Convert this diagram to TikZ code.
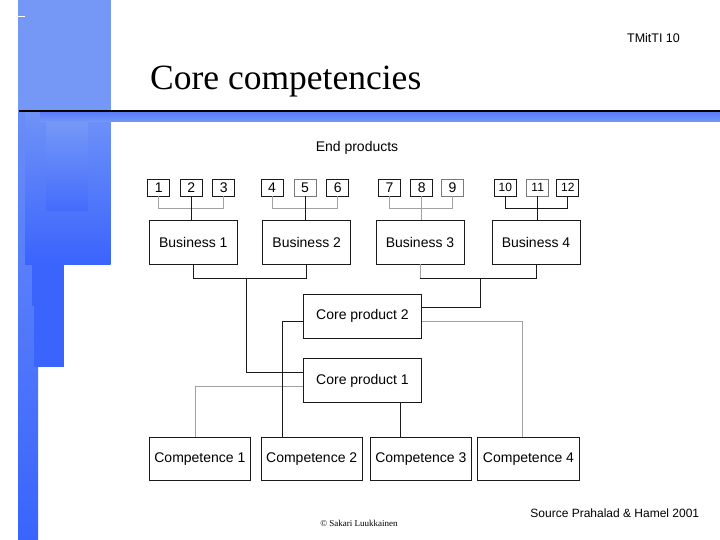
\documentclass[tikz,border=0pt]{standalone}
\usepackage{fontspec}
\setmainfont{Liberation Sans}
\newfontfamily\titlefont{Liberation Serif}
\usetikzlibrary{positioning}

\definecolor{barlight}{HTML}{7598F7}
\definecolor{bardark}{HTML}{3A64FC}
\definecolor{linedark}{HTML}{1A1A1A}
\definecolor{linegray}{HTML}{A2A2A2}

\tikzset{
  prodbox/.style={draw=linedark, line width=0.9pt, minimum width=22pt, minimum height=17pt,
    inner sep=0pt, font=\fontsize{14}{14}\selectfont},
  grayprod/.style={prodbox, draw=linegray!75!black},
  busbox/.style={draw=linedark, line width=0.9pt, minimum width=88pt, minimum height=44pt,
    inner sep=0pt, font=\fontsize{14}{16}\selectfont},
  corebox/.style={busbox, minimum width=118pt},
  compbox/.style={busbox, minimum width=101.5pt, minimum height=43.5pt},
  dark/.style={draw=linedark, line width=0.9pt},
  light/.style={draw=linegray, line width=0.9pt},
}

\begin{document}
\begin{tikzpicture}[x=1pt, y=-1pt]

  % page
  \useasboundingbox[fill=white] (0,0) rectangle (720,540);

  % Left side bars
  \shade[top color=barlight, bottom color=bardark] (18,0) rectangle (38,540);
  \fill[barlight] (18,0) rectangle (110.7,110);
  \shade[top color=barlight!90!bardark, bottom color=bardark] (25,112) rectangle (110.7,264);
  \shade[top color=barlight, bottom color=bardark!95!white] (46,122) rectangle (88,211);
  \fill[bardark] (32,264) rectangle (64,306);
  \fill[bardark] (34,306) rectangle (64,367);
  \draw[white, line width=0.8pt] (18,16.5) -- (25,16.5);

  % Title rule
  \shade[top color=bardark!85!white, bottom color=barlight] (40,112) rectangle (720,122);
  \fill[black] (19,110) rectangle (720,112.3);

  % Header texts
  \node[anchor=base west, inner sep=0pt, font=\titlefont\fontsize{35.5}{36}\selectfont] (title) at (150,90) {Core competencies};
  \node[font=\fontsize{12.5}{13}\selectfont] (slideno) at (653.5,38) {TMitTI 10};

  % End products
  \node[font=\fontsize{14}{14}\selectfont] (endprod) at (357,148) {End products};
  \foreach \n/\x in {1/158.7, 2/191.3, 3/223.8, 4/272, 6/337.7, 7/389.5, 8/421.8}
    \node[prodbox] (n\n) at (\x,187.5) {\n};
  \foreach \n/\x in {5/305, 9/452.5}
    \node[grayprod] (n\n) at (\x,187.5) {\n};
  \foreach \n/\x in {10/505.3, 12/567.8}
    \node[prodbox, font=\fontsize{12}{12}\selectfont] (n\n) at (\x,187.5) {\n};
  \node[grayprod, font=\fontsize{12}{12}\selectfont] (n11) at (537.7,187.5) {11};

  % Businesses
  \node[busbox] (b1) at (193.3,242) {Business 1};
  \node[busbox] (b2) at (306.7,242) {Business 2};
  \node[busbox] (b3) at (420,242) {Business 3};
  \node[busbox] (b4) at (536,242) {Business 4};

  % Core products
  \node[corebox] (cp2) at (362.5,316.3) {Core product 2};
  \node[corebox] (cp1) at (362.5,380.7) {Core product 1};

  % Competences
  \node[compbox] (c1) at (199.9,459) {Competence 1};
  \node[compbox] (c2) at (311.7,459) {Competence 2};
  \node[compbox] (c3) at (420.8,459) {Competence 3};
  \node[compbox] (c4) at (528.5,459) {Competence 4};

  % End products to businesses
  \draw[light] (n1.south) -- ++(0,11.7) -| (n3.south);
  \draw[dark] (n2.south) -- (n2.south |- b1.north);
  \draw[light] (n4.south) -- ++(0,11.7) -| (n6.south);
  \draw[dark] (n5.south) -- (n5.south |- b2.north);
  \draw[light] (n7.south) -- ++(0,11.7) -| (n9.south);
  \draw[light] (n8.south) -- (n8.south |- b3.north);
  \draw[dark] (n10.south) -- ++(0,11.7) -| (n12.south);
  \draw[dark] (n11.south) -- (n11.south |- b4.north);

  % Businesses to core products
  \coordinate (j1) at (246,278.3);
  \coordinate (j2) at (480,278.3);
  \draw[dark] (b1.south) -- ++(0,14.3) -| (b2.south);
  \draw[dark] (j1) |- ([yshift=8pt]cp1.west);
  \draw[light] (b3.south) -- ++(0,14.3) coordinate (b3d);
  \draw[dark] (b3d) -| (b4.south);
  \draw[dark] (j2) |- ([yshift=9pt]cp2.east);

  % Competences to core products
  \draw[light] ([xshift=-4.2pt]c1.north) |- ([yshift=-6pt]cp1.west);
  \draw[dark] ([xshift=-29pt]c2.north) |- ([yshift=-4.7pt]cp2.west);
  \draw[dark] ([xshift=-20.8pt]c3.north) -- ([xshift=-20.8pt]c3.north |- cp1.south);
  \draw[light] ([xshift=-6.2pt]c4.north) |- ([yshift=-5.4pt]cp2.east);

  % Footer
  \node[font=\fontsize{12}{12}\selectfont] (source) at (614.8,513) {Source Prahalad \& Hamel 2001};
  \node[font=\titlefont\fontsize{9}{9}\selectfont] (copyr) at (359,523) {© Sakari Luukkainen};

\end{tikzpicture}
\end{document}
